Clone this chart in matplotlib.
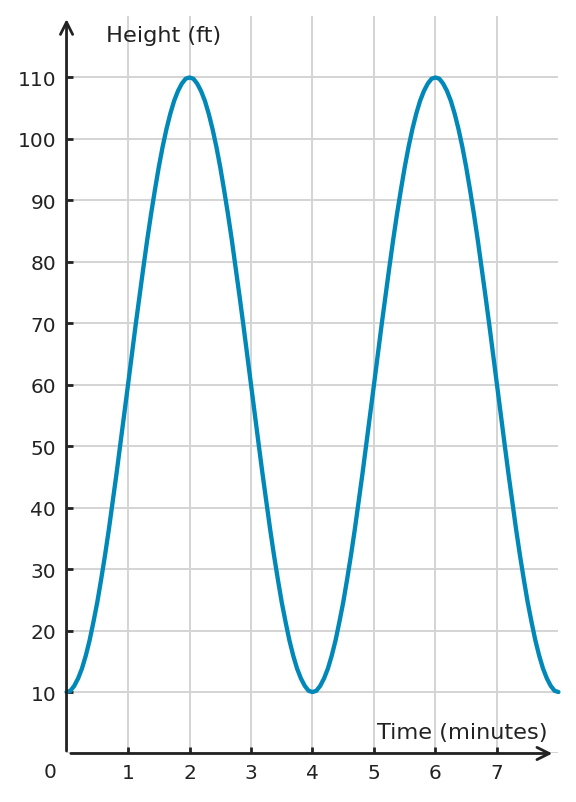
import matplotlib
matplotlib.use("Agg")
import matplotlib.pyplot as plt
import numpy as np

# Data (height every 1/16 minute)
time_min = np.linspace(0, 8, 129)
height_ft = [
    # 0 - 2 min
    10, 10.2, 11, 12.2, 13.8, 15.9, 18.4, 21.4, 24.6, 28.3, 32.2, 36.4,
    40.9, 45.5, 50.3, 55.1, 60, 64.9, 69.8, 74.5, 79.1, 83.6, 87.8, 91.7,
    95.4, 98.7, 101.6, 104.1, 106.2, 107.8, 109, 109.8, 110,
    # 2 - 4 min
    109.8, 109, 107.8, 106.2, 104.1, 101.6, 98.7, 95.4, 91.7, 87.8, 83.6,
    79.1, 74.5, 69.8, 64.9, 60, 55.1, 50.3, 45.5, 40.9, 36.4, 32.2, 28.3,
    24.6, 21.4, 18.4, 15.9, 13.8, 12.2, 11, 10.2, 10,
    # 4 - 6 min
    10.2, 11, 12.2, 13.8, 15.9, 18.4, 21.4, 24.6, 28.3, 32.2, 36.4,
    40.9, 45.5, 50.3, 55.1, 60, 64.9, 69.8, 74.5, 79.1, 83.6, 87.8, 91.7,
    95.4, 98.7, 101.6, 104.1, 106.2, 107.8, 109, 109.8, 110,
    # 6 - 8 min
    109.8, 109, 107.8, 106.2, 104.1, 101.6, 98.7, 95.4, 91.7, 87.8, 83.6,
    79.1, 74.5, 69.8, 64.9, 60, 55.1, 50.3, 45.5, 40.9, 36.4, 32.2, 28.3,
    24.6, 21.4, 18.4, 15.9, 13.8, 12.2, 11, 10.2, 10,
]
x_ticks = [1, 2, 3, 4, 5, 6, 7]
y_ticks = [10, 20, 30, 40, 50, 60, 70, 80, 90, 100, 110]

text_color = "#222222"
curve_color = "#0088b8"
grid_color = "#d4d4d4"
tick_fs = 14.5
label_fs = 16.2

fig = plt.figure(figsize=(5.76, 8.03), dpi=100)
ax = fig.add_axes([0.1155, 0.0604, 0.854, 0.9184])
ax.set_xlim(0, 8)
ax.set_ylim(0, 120)

# gridlines
for xv in x_ticks:
    ax.axvline(xv, color=grid_color, lw=1.4, zorder=1)
for yv in [0] + y_ticks:
    ax.axhline(yv, color=grid_color, lw=1.4, zorder=1)

for s in ax.spines.values():
    s.set_visible(False)

ax.set_xticks(x_ticks)
ax.set_yticks(y_ticks)
ax.tick_params(axis="both", direction="in", length=4, width=2, color=text_color,
               labelcolor=text_color, labelsize=tick_fs)
ax.tick_params(axis="x", pad=7)
ax.tick_params(axis="y", pad=7.5)

# axes with arrows
ax.annotate("", xy=(7.9, 0), xytext=(0.07, 0),
            arrowprops=dict(arrowstyle="->", color=text_color, lw=2,
                            mutation_scale=22, shrinkA=0, shrinkB=0),
            zorder=5)
ax.annotate("", xy=(0, 119.5), xytext=(0, 0.4),
            arrowprops=dict(arrowstyle="->", color=text_color, lw=2,
                            mutation_scale=22, shrinkA=0, shrinkB=0),
            zorder=5)

ax.plot(time_min, height_ft, color=curve_color, lw=3.1, zorder=4,
        solid_capstyle="round", clip_on=False)

ax.text(0.65, 116.9, "Height (ft)", fontsize=label_fs, color=text_color,
        ha="left", va="center")
ax.text(7.83, 3.5, "Time (minutes)", fontsize=label_fs, color=text_color,
        ha="right", va="center")
ax.annotate("0", xy=(0, 0), xytext=(-11.9, -13.3), textcoords="offset points",
            fontsize=tick_fs, color=text_color, ha="center", va="center")

fig.savefig("out.png", dpi=100)
